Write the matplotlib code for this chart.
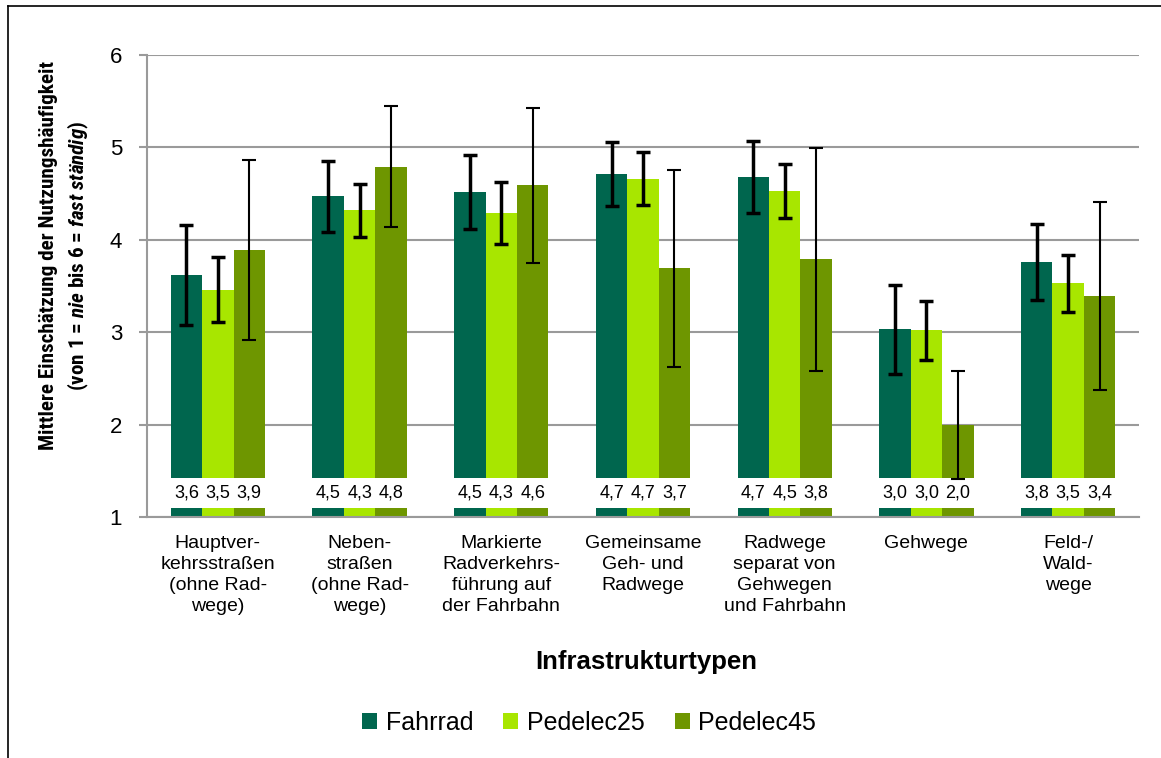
import numpy as np
import matplotlib
matplotlib.use("Agg")
import matplotlib.pyplot as plt
from matplotlib.lines import Line2D
from matplotlib import font_manager


def schnitte(name):
    # welche fetten Schnitte (normal / kursiv) hat diese Familie?
    fett, fett_kursiv = False, False
    for f in font_manager.fontManager.ttflist:
        if f.name == name:
            w = f.weight
            if not isinstance(w, int):
                w = font_manager.weight_dict.get(w, 400)
            if w >= 700:
                if f.style == "normal":
                    fett = True
                else:
                    fett_kursiv = True
    return fett, fett_kursiv


kandidaten = ["Liberation Sans Narrow", "Arial Narrow", "Roboto Condensed",
              "Archivo Narrow", "Fira Sans Condensed", "IBM Plex Sans Condensed",
              "Open Sans Condensed", "Barlow Semi Condensed", "PT Sans Narrow"]

# schmale Schrift fuer die y-Achsenbeschriftung suchen (wie Arial Narrow),
# am liebsten mit fett-kursivem Schnitt
schmal = None
for kandidat in kandidaten:
    if all(schnitte(kandidat)):
        schmal = kandidat
        break
if schmal is None:
    for kandidat in kandidaten:
        if schnitte(kandidat)[0]:
            schmal = kandidat
            break
if schmal is None:
    schmal = "Liberation Sans"
kursiv_font = schmal if schnitte(schmal)[1] else "Liberation Sans"

plt.rcParams["font.family"] = ["Liberation Sans", "DejaVu Sans"]
plt.rcParams["mathtext.fontset"] = "custom"
plt.rcParams["mathtext.it"] = kursiv_font + ":italic:bold"
plt.rcParams["mathtext.rm"] = schmal + ":bold"
plt.rcParams["mathtext.bf"] = schmal + ":bold"

# Daten
kategorien = ["Hauptver-\nkehrsstraßen\n(ohne Rad-\nwege)",
              "Neben-\nstraßen\n(ohne Rad-\nwege)",
              "Markierte\nRadverkehrs-\nführung auf\nder Fahrbahn",
              "Gemeinsame\nGeh- und\nRadwege",
              "Radwege\nseparat von\nGehwegen\nund Fahrbahn",
              "Gehwege",
              "Feld-/\nWald-\nwege"]
serien = ["Fahrrad", "Pedelec25", "Pedelec45"]

fahrrad = [3.62, 4.47, 4.52, 4.71, 4.68, 3.03, 3.76]
pedelec25 = [3.46, 4.32, 4.29, 4.66, 4.53, 3.02, 3.53]
pedelec45 = [3.89, 4.79, 4.59, 3.69, 3.79, 2.00, 3.39]

sd_fahrrad = [0.54, 0.385, 0.40, 0.345, 0.385, 0.485, 0.415]
sd_pedelec25 = [0.355, 0.285, 0.34, 0.285, 0.29, 0.32, 0.31]
sd_pedelec45 = [0.975, 0.655, 0.84, 1.07, 1.205, 0.585, 1.015]

farben = ["#00664E", "#A8E600", "#6E9600"]

werte = [fahrrad, pedelec25, pedelec45]
sds = [sd_fahrrad, sd_pedelec25, sd_pedelec45]

fig = plt.figure(figsize=(11.61, 7.58), dpi=100)
ax = fig.add_axes([147/1161, 1-517/758, (1139-147)/1161, (517-55)/758])

x = np.arange(len(kategorien))
breite = 0.222
grau = "#9A9A9A"

for i, (w, sd, farbe, name) in enumerate(zip(werte, sds, farben, serien)):
    pos = x + (i - 1) * breite
    ax.bar(pos, np.array(w) - 1, bottom=1, width=breite, color=farbe,
           label=name, zorder=2)
    lw = 1.5 if i == 2 else 2.5
    ax.errorbar(pos, w, yerr=sd, fmt="none", ecolor="black", elinewidth=lw,
                capsize=4.8, capthick=lw, zorder=4)
    for p, v in zip(pos, w):
        ax.text(p, 1.255, f"{v:.1f}".replace(".", ","), ha="center",
                va="center", fontsize=13, zorder=5)

# weisser Streifen hinter den Wertebeschriftungen
ax.axhspan(1.10, 1.42, color="white", zorder=3, lw=0)

ax.set_xlim(-0.5, len(kategorien) - 0.5)
ax.set_ylim(1, 6)
ax.set_yticks([1, 2, 3, 4, 5, 6])
ax.set_xticks(x)
ax.set_xticklabels(kategorien, fontsize=14, linespacing=1.3)
ax.tick_params(axis="x", length=0, pad=13)
ax.tick_params(axis="y", labelsize=16, color=grau, length=6, width=1.5, pad=12)
ax.yaxis.grid(True, color=grau, lw=1.5, zorder=1)
ax.set_axisbelow(True)
for s in ["top", "right"]:
    ax.spines[s].set_visible(False)
for s in ["left", "bottom"]:
    ax.spines[s].set_color(grau)
    ax.spines[s].set_linewidth(1.5)
    ax.spines[s].set_zorder(6)

ylab = fig.text(65/1161, 1-256/758,
                "Mittlere Einschätzung der Nutzungshäufigkeit\n"
                "(von 1 = $nie$ bis 6 = $fast\\ ständig$)",
                rotation=90, ha="center", va="center", fontsize=13,
                family=[schmal, "Liberation Sans"], fontweight="bold",
                linespacing=1.5)

# Groesse so anpassen, dass die Beschriftung ca. 388 px lang und 52 px breit ist
renderer = fig.canvas.get_renderer()
bb = ylab.get_window_extent(renderer)
ylab.set_fontsize(13 * 388 / bb.height)
ylab.set_linespacing(1.2)
w1 = ylab.get_window_extent(renderer).width
ylab.set_linespacing(1.8)
w2 = ylab.get_window_extent(renderer).width
if w2 != w1:
    ylab.set_linespacing(1.2 + (52 - w1) * 0.6 / (w2 - w1))

fig.text(646/1161, 1-662/758, "Infrastrukturtypen", ha="center", va="center",
         fontsize=18.5, fontweight="bold")

fig.legend(loc="center", bbox_to_anchor=(589/1161, 1-723/758), ncol=3,
           frameon=False, fontsize=18, handlelength=0.6, handleheight=0.6,
           handletextpad=0.35, columnspacing=1.2)

# Rahmen oben und links
fig.add_artist(Line2D([8/1161, 1], [1-6/758, 1-6/758], color="black", lw=1.2))
fig.add_artist(Line2D([8/1161, 8/1161], [0, 1-6/758], color="black", lw=1.2))

fig.savefig("out.png", dpi=100)
